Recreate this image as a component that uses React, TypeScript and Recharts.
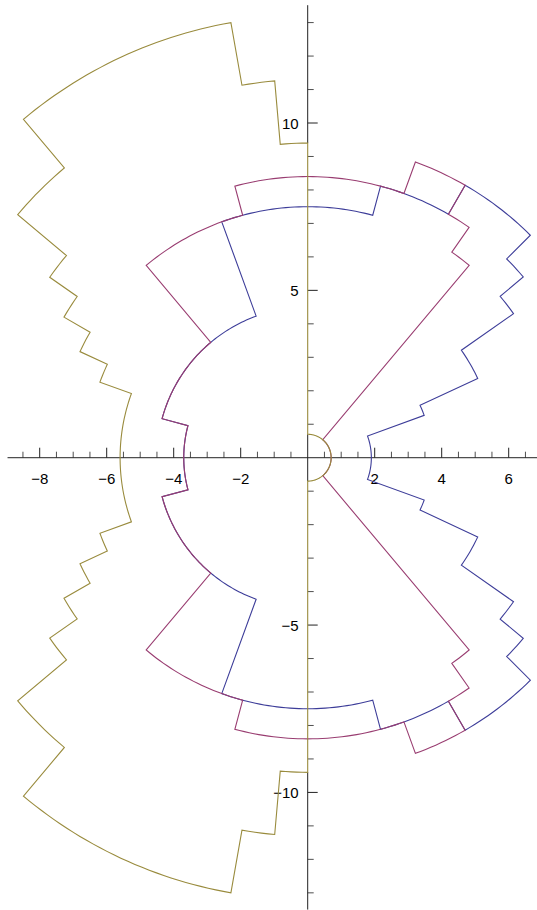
import { ScatterChart, Scatter, XAxis, YAxis, ReferenceLine, ReferenceDot } from "recharts";

const W = 537;
const H = 910;
const X_DOMAIN: [number, number] = [-9.185, 6.845];
const Y_DOMAIN: [number, number] = [-13.513, 13.675];

// step radii per angular bin (degrees, upper half; the plot is mirrored in the x axis)
const blueEdges = [0, 20, 25, 35, 40, 45, 60, 75, 110, 165, 180];
const blueRadii = [1.9, 3.7, 5.6, 7.5, 8.4, 9.4, 8.4, 7.5, 4.5, 3.7];
const purpleEdges = [0, 50, 55, 60, 70, 105, 130, 165, 180];
const purpleRadii = [0.7, 7.5, 8.4, 9.4, 8.4, 7.5, 4.5, 3.7];
const oliveEdges = [0, 90, 95, 100, 130, 140, 145, 150, 155, 160, 180];
const oliveRadii = [0.7, 9.4, 11.3, 13.2, 11.3, 9.4, 8.4, 7.5, 6.6, 5.6];

const xMajor = [-8, -6, -4, -2, 2, 4, 6];
const xMinor = [-8.5, -7.5, -7, -6.5, -5.5, -5, -4.5, -3.5, -3, -2.5, -1.5, -1, -0.5, 0.5, 1, 1.5, 2.5, 3, 3.5, 4.5, 5, 5.5, 6.5];
const yMajor = [-10, -5, 5, 10];
const yMinor = [-13, -12, -11, -9, -8, -7, -6, -4, -3, -2, -1, 1, 2, 3, 4, 6, 7, 8, 9, 11, 12, 13];
const xAxisSpan = [-8.96, 6.845];
const yAxisSpan = [-13.5, 13.52];

const AXIS = "#222";
const FONT = "'Liberation Sans', Arial, sans-serif";

function polarPath(edges: number[], radii: number[]) {
  const half: { x: number; y: number }[] = [];
  for (let i = 0; i < radii.length; i++) {
    for (let a = edges[i]; a <= edges[i + 1]; a += 1) {
      const t = (a * Math.PI) / 180;
      half.push({ x: radii[i] * Math.cos(t), y: radii[i] * Math.sin(t) });
    }
  }
  const lower = half.slice().reverse().map((p) => ({ x: p.x, y: -p.y }));
  return half.concat(lower);
}

const blue = polarPath(blueEdges, blueRadii);
const purple = polarPath(purpleEdges, purpleRadii);
const olive = polarPath(oliveEdges, oliveRadii);

// the olive curve runs along the y axis at 90 deg; leave that stretch to the curve
const yAxisPieces = [
  [yAxisSpan[0], -oliveRadii[1]],
  [-oliveRadii[0], oliveRadii[0]],
  [oliveRadii[1], yAxisSpan[1]],
];

const noDot = () => <g />;

const fmt = (v: number) => (v < 0 ? "\u2212" + Math.abs(v) : String(v));

export default function App() {
  return (
    <div style={{ position: "absolute", left: 0, top: 0, width: W, height: H, background: "#fff" }}>
      <ScatterChart width={W} height={H} margin={{ top: 0, right: 0, bottom: 0, left: 0 }}>
        <XAxis type="number" dataKey="x" domain={X_DOMAIN} allowDataOverflow hide />
        <YAxis type="number" dataKey="y" domain={Y_DOMAIN} allowDataOverflow hide />
        <ReferenceLine segment={[{ x: xAxisSpan[0], y: 0 }, { x: xAxisSpan[1], y: 0 }]} stroke={AXIS} strokeWidth={1} />
        {yAxisPieces.map(([a, b]) => (
          <ReferenceLine key={"ya" + a} segment={[{ x: 0, y: a }, { x: 0, y: b }]} stroke={AXIS} strokeWidth={1} />
        ))}
        {xMinor.map((v) => (
          <ReferenceDot key={"xm" + v} x={v} y={0} r={0}
            shape={(p: any) => <line x1={p.cx} y1={p.cy} x2={p.cx} y2={p.cy - 6} stroke={AXIS} strokeWidth={0.8} />} />
        ))}
        {xMajor.map((v) => (
          <ReferenceDot key={"xM" + v} x={v} y={0} r={0}
            shape={(p: any) => (
              <g>
                <line x1={p.cx} y1={p.cy} x2={p.cx} y2={p.cy - 10} stroke={AXIS} strokeWidth={1} />
                <text x={p.cx} y={p.cy + 26} textAnchor="middle" fontFamily={FONT} fontSize={15} fill="#000">{fmt(v)}</text>
              </g>
            )} />
        ))}
        {yMinor.map((v) => (
          <ReferenceDot key={"ym" + v} x={0} y={v} r={0}
            shape={(p: any) => <line x1={p.cx} y1={p.cy} x2={p.cx + 6} y2={p.cy} stroke={AXIS} strokeWidth={0.8} />} />
        ))}
        {yMajor.map((v) => (
          <ReferenceDot key={"yM" + v} x={0} y={v} r={0}
            shape={(p: any) => (
              <g>
                <line x1={p.cx} y1={p.cy} x2={p.cx + 10} y2={p.cy} stroke={AXIS} strokeWidth={1} />
                <text x={p.cx - 9} y={p.cy + 5.5} textAnchor="end" fontFamily={FONT} fontSize={15} fill="#000">{fmt(v)}</text>
              </g>
            )} />
        ))}
        <Scatter data={blue} line={{ stroke: "#3d3d99", strokeWidth: 1.1 }} shape={noDot} isAnimationActive={false} />
        <Scatter data={purple} line={{ stroke: "#993d71", strokeWidth: 1.1 }} shape={noDot} isAnimationActive={false} />
        <Scatter data={olive} line={{ stroke: "#998b3d", strokeWidth: 1.1 }} shape={noDot} isAnimationActive={false} />
      </ScatterChart>
    </div>
  );
}
